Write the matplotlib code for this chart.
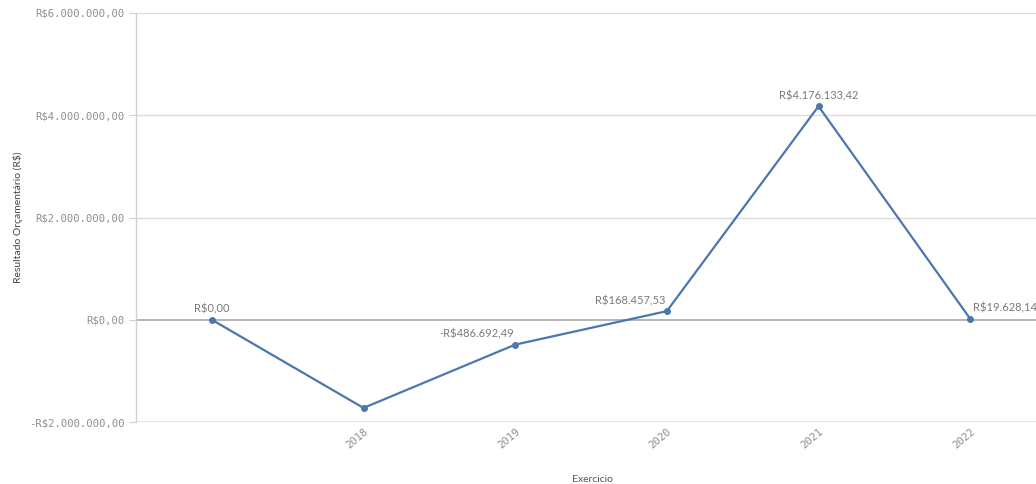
import matplotlib
matplotlib.use("Agg")
import matplotlib.pyplot as plt
from matplotlib.ticker import FuncFormatter

# Data
categories = ["", "2018", "2019", "2020", "2021", "2022"]
values = [0.0, -1725000.0, -486692.49, 168457.53, 4176133.42, 19628.14]
labels = ["R$0,00", None, "-R$486.692,49", "R$168.457,53", "R$4.176.133,42", "R$19.628,14"]
label_ha = ["center", "center", "right", "right", "center", "left"]
yticks = [-2000000, 0, 2000000, 4000000, 6000000]

W, H = 1036, 484
fig = plt.figure(figsize=(W / 100, H / 100), dpi=100)
left, right, top, bottom = 136, 1046, 13, 422
ax = fig.add_axes([left / W, 1 - bottom / H, (right - left) / W, (bottom - top) / H])

line_color = "#4a78ae"
x = list(range(len(categories)))
ax.plot(x, values, color=line_color, lw=1.6, marker="o", ms=4.0, zorder=3, clip_on=False)

ax.set_xlim(-0.5, len(categories) - 0.5)
ax.set_ylim(-2000000, 6000000)


def brl(v, pos=None):
    s = f"{abs(v):,.2f}".replace(",", "X").replace(".", ",").replace("X", ".")
    return ("-R$" if v < 0 else "R$") + s


ax.set_yticks(yticks)
ax.yaxis.set_major_formatter(FuncFormatter(brl))
ax.set_xticks(x)
ax.set_xticklabels(categories)

for t in yticks:
    if t == 0:
        ax.axhline(t, color="#a8a8a8", lw=1.2, zorder=1)
    elif t == yticks[0]:
        ax.axhline(t, color="#e2e2e2", lw=2.0, zorder=1)
    else:
        ax.axhline(t, color="#dcdcdc", lw=1.0, zorder=1)

for s in ["top", "right", "bottom"]:
    ax.spines[s].set_visible(False)
ax.spines["left"].set_color("#d0d0d0")
ax.spines["left"].set_linewidth(1.0)

ax.tick_params(axis="y", length=5, color="#d0d0d0", pad=3, labelsize=7.6, labelcolor="#8e8e8e")
ax.tick_params(axis="x", length=0, pad=3, labelsize=7.6, labelcolor="#8e8e8e")
for lab in ax.get_yticklabels():
    lab.set_family("DejaVu Sans Mono")
for lab in ax.get_xticklabels():
    lab.set_family("DejaVu Sans Mono")
    lab.set_rotation(40)
    lab.set_ha("right")
    lab.set_rotation_mode("anchor")

for xi, v, lab, ha in zip(x, values, labels, label_ha):
    if lab is None:
        continue
    dx = {"center": 0, "right": -1, "left": 2}[ha]
    ax.annotate(lab, (xi, v), xytext=(dx, 3.5), textcoords="offset points", ha=ha, va="bottom",
                fontsize=8, color="#7a7a7a", family="Lato", annotation_clip=False)

fig.text(18 / W, 1 - 217 / H, "Resultado Orçamentário (R$)", rotation=90, ha="center", va="center",
         fontsize=7.5, color="#444444", family="Lato")
fig.text(592 / W, 1 - 480 / H, "Exercicio", ha="center", va="center", fontsize=7.5,
         color="#555555", family="Lato")

fig.savefig("out.png", dpi=100)
